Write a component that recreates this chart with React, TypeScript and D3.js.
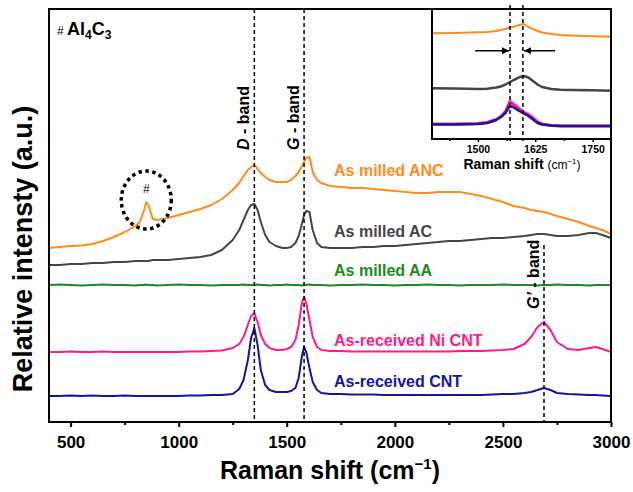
import React, { useEffect, useRef } from 'react';
import * as d3 from 'd3';

// Raman shift (cm-1) sample points for the main panel
const shift = [
  400, 450, 500, 550, 600, 650, 700, 750, 800,
  820, 840, 850, 860, 880, 900,
  950, 1000, 1050, 1100, 1150, 1200, 1250,
  1280, 1300, 1320, 1335, 1350, 1365, 1380, 1400, 1420, 1450, 1480, 1500, 1520, 1540, 1555, 1570, 1580, 1590, 1605, 1620, 1640, 1660,
  1700, 1750, 1800, 1850, 1900, 1950, 2000, 2050, 2100, 2150, 2200, 2250, 2300, 2350, 2400, 2450, 2500, 2550, 2600,
  2630, 2660, 2690, 2720, 2750, 2800, 2850, 2900, 2930, 2960, 3000,
];

// offset intensities (a.u.)
const ancMilled = [
  174, 175, 176, 176.5, 178, 181, 185, 190, 196,
  200, 212, 220, 217, 203, 202,
  204, 207, 210, 213, 217, 223, 232,
  239, 246, 252, 255, 257, 253, 249, 245, 242, 240, 240, 240, 242, 246, 250, 256, 260, 264, 265, 250, 242, 239,
  236, 235, 234, 234, 233, 232, 231, 230, 229, 229, 230, 230, 230, 228, 226, 223, 220, 216, 214,
  212, 211, 210, 208, 206, 203, 200, 196, 194, 192, 188,
];
const acMilled = [
  157, 157, 158, 158, 159, 159, 160, 160, 161,
  161, 161, 161, 161, 162, 162,
  162, 163, 164, 165, 167, 172, 182,
  192, 202, 212, 217, 218, 212, 200, 187, 180, 176, 174, 174, 175, 179, 186, 198, 207, 211, 210, 192, 179, 175,
  174, 174, 174, 175, 175, 176, 176, 177, 178, 179, 180, 181, 181, 182, 183, 184, 184, 185, 186,
  187, 188, 188, 187, 186, 186, 187, 189, 189, 187, 184,
];
const aaMilled = [
  137, 137.5, 137, 136.5, 137, 137.5, 137, 137, 136.5,
  137, 137, 137.5, 137, 137, 136.5,
  137, 137.5, 137, 137, 136.5, 137, 137,
  137, 137.5, 137, 137, 137, 137.5, 137, 137, 136.5, 137, 137, 137.5, 137, 137, 137, 136.5, 137, 137, 137.5, 137, 137, 137,
  136.5, 137, 137, 137.5, 137, 137, 136.5, 137, 137, 137.5, 137, 137, 136.5, 137, 137, 137, 137.5, 137, 137,
  137, 136.5, 137, 137, 137.5, 137, 137, 136.5, 137, 137, 137,
];
const niCnt = [
  70, 70, 70.5, 70, 70, 70.5, 70, 70, 70,
  70, 70, 70, 70, 70, 70,
  70, 70, 70.5, 70.5, 71, 71.5, 74,
  78, 85, 97, 106, 109, 100, 87, 78, 74, 72, 72, 73, 75, 82, 97, 119, 125, 119, 102, 85, 75, 72,
  71, 71, 70.5, 70.5, 70.5, 70.5, 70.5, 70.5, 70.5, 70.5, 70.5, 70.5, 71, 71, 71, 71.5, 72, 73, 78,
  85, 95, 100, 92, 80, 73, 72, 74, 75, 73, 70,
];
const cnt = [
  26, 26, 26.5, 26, 26.5, 26, 26, 26.5, 26,
  26, 26, 26, 26, 26, 26,
  26, 26, 26.5, 26.5, 27, 27, 28,
  33, 42, 62, 84, 94, 77, 52, 37, 32, 30, 30, 30, 31, 34, 44, 66, 75, 70, 54, 40, 32, 29,
  28, 28, 27.5, 27.5, 27.5, 27, 27, 27, 27, 27, 27, 27, 27, 27, 27, 27.5, 28, 28, 29,
  30, 32, 34, 32, 29, 28, 27.5, 27, 27, 26.5, 26,
];

// inset: G band region
const insetShift = [1400, 1450, 1500, 1520, 1540, 1550, 1560, 1570, 1580, 1590, 1600, 1610, 1620, 1630, 1640, 1660, 1680, 1700, 1750, 1790];
const insetAnc = [105.7, 106, 106.7, 107, 108, 109, 110, 111.5, 112.5, 114, 115, 112, 110, 108, 106.5, 105, 104, 103.5, 102.7, 102.3];
const insetAc = [50.7, 50.5, 50, 50.3, 51.5, 52.5, 54.5, 57, 59.5, 61.7, 63, 61.5, 58, 54.5, 52, 50, 49.3, 49, 48.7, 48.3];
const insetNiCnt = [15, 15, 15.5, 16.5, 19.5, 22.5, 27.5, 37.5, 34, 30, 27, 24.5, 21, 17, 15, 13.5, 13, 13, 13, 13];
const insetCnt = [14.5, 14.5, 15, 16, 19, 22, 26, 33.5, 31, 28, 25.5, 23, 19.5, 16, 14.5, 13.5, 13, 13, 13, 13];

const mainTicks = [500, 1000, 1500, 2000, 2500, 3000];
const mainMinorTicks = [750, 1250, 1750, 2250, 2750];
const insetTicks = [1500, 1625, 1750];
const insetMinorTicks = [1437.5, 1562.5, 1687.5];

const dBand = 1350;
const gBand = 1580;
const g2Band = 2690;
const insetBands = [1570, 1598];

const FONT = 'Arial, "Liberation Sans", Helvetica, sans-serif';

const App = () => {
  const ref = useRef<SVGSVGElement>(null);

  useEffect(() => {
    const svg = d3.select(ref.current);
    svg.selectAll('*').remove();
    svg.style('font-family', FONT);

    // main panel geometry
    const x = d3.scaleLinear().domain([400, 3000]).range([49, 611]);
    const y = d3.scaleLinear().domain([0, 413]).range([422, 9]);

    const line = d3.line<number>()
      .x((_, i) => x(shift[i]))
      .y((d) => y(d));

    const series = [
      { name: 'As milled ANC', values: ancMilled, color: '#FF8C1A', labelY: 176 },
      { name: 'As milled AC', values: acMilled, color: '#454545', labelY: 237 },
      { name: 'As milled AA', values: aaMilled, color: '#1C8A1C', labelY: 275.5 },
      { name: 'As-received Ni CNT', values: niCnt, color: '#FF1A8C', labelY: 345.5 },
      { name: 'As-received CNT', values: cnt, color: '#16169A', labelY: 386.5 },
    ];

    series.forEach((s) => {
      svg.append('path')
        .attr('d', line(s.values))
        .attr('fill', 'none')
        .attr('stroke', s.color)
        .attr('stroke-width', 2)
        .attr('stroke-linejoin', 'round');
      svg.append('text')
        .attr('x', 334)
        .attr('y', s.labelY)
        .attr('fill', s.color)
        .attr('font-size', 16)
        .attr('font-weight', 'bold')
        .text(s.name);
    });

    // dashed band markers
    const dashed = (xv: number, y0: number, y1: number) => {
      svg.append('line')
        .attr('x1', x(xv)).attr('x2', x(xv))
        .attr('y1', y0).attr('y2', y1)
        .attr('stroke', '#000')
        .attr('stroke-width', 1.5)
        .attr('stroke-dasharray', '4,3');
    };
    dashed(dBand, 9, 422);
    dashed(gBand, 9, 422);
    dashed(g2Band, 245, 422);

    const bandLabel = (xv: number, yStart: number, letter: string) => {
      const t = svg.append('text')
        .attr('transform', `translate(${x(xv) - 5},${yStart}) rotate(-90)`)
        .attr('font-size', 16)
        .attr('font-weight', 'bold');
      t.append('tspan').attr('font-style', 'italic').text(letter);
      t.append('tspan').text(' - band');
    };
    bandLabel(dBand, 150, 'D');
    bandLabel(gBand, 150, 'G');
    bandLabel(g2Band, 309, 'G\u2019');

    // Al4C3 marker
    svg.append('ellipse')
      .attr('cx', x(850))
      .attr('cy', y(222))
      .attr('rx', 25)
      .attr('ry', 29)
      .attr('fill', 'none')
      .attr('stroke', '#000')
      .attr('stroke-width', 3.5)
      .attr('stroke-dasharray', '3.5,3.5');
    svg.append('text')
      .attr('x', x(850))
      .attr('y', 193)
      .attr('text-anchor', 'middle')
      .attr('font-size', 12)
      .text('#');

    const al = svg.append('text').attr('x', 57).attr('y', 35).attr('font-weight', 'bold');
    al.append('tspan').attr('font-size', 12).attr('font-weight', 'normal').text('# ');
    al.append('tspan').attr('font-size', 18).text('Al');
    al.append('tspan').attr('font-size', 12).attr('dy', 4).text('4');
    al.append('tspan').attr('font-size', 18).attr('dy', -4).text('C');
    al.append('tspan').attr('font-size', 12).attr('dy', 4).text('3');

    // frame + axes
    svg.append('rect')
      .attr('x', 49).attr('y', 9)
      .attr('width', 562).attr('height', 413)
      .attr('fill', 'none')
      .attr('stroke', '#000')
      .attr('stroke-width', 2);

    const xAxis = svg.append('g')
      .attr('transform', 'translate(0,422)')
      .call(d3.axisBottom(x).tickValues(mainTicks).tickSize(5).tickPadding(9).tickFormat(d3.format('d')));
    xAxis.select('.domain').remove();
    xAxis.selectAll('line').attr('stroke-width', 2);
    xAxis.selectAll('text')
      .attr('font-size', 17)
      .attr('font-weight', 'bold')
      .attr('font-family', FONT);

    const xMinor = svg.append('g')
      .attr('transform', 'translate(0,422)')
      .call(d3.axisBottom(x).tickValues(mainMinorTicks).tickSize(3).tickFormat(() => ''));
    xMinor.select('.domain').remove();
    xMinor.selectAll('line').attr('stroke-width', 2);

    const xt = svg.append('text')
      .attr('x', 330)
      .attr('y', 479)
      .attr('text-anchor', 'middle')
      .attr('font-size', 25)
      .attr('font-weight', 'bold');
    xt.append('tspan').text('Raman shift (cm');
    xt.append('tspan').attr('font-size', 15).attr('dy', -10).text('\u22121');
    xt.append('tspan').attr('dy', 10).text(')');

    svg.append('text')
      .attr('transform', 'translate(32,249) rotate(-90)')
      .attr('text-anchor', 'middle')
      .attr('font-size', 27)
      .attr('font-weight', 'bold')
      .text('Relative intensty (a.u.)');

    // ---- inset ----
    const xi = d3.scaleLinear().domain([1400, 1790]).range([432, 611]);
    const yi = d3.scaleLinear().domain([0, 130]).range([139, 9]);

    svg.append('rect')
      .attr('x', 432).attr('y', 9)
      .attr('width', 179).attr('height', 130)
      .attr('fill', '#fff');

    const insetLine = d3.line<number>()
      .x((_, i) => xi(insetShift[i]))
      .y((d) => yi(d));

    [
      { values: insetAnc, color: '#FF8C1A', w: 2 },
      { values: insetAc, color: '#454545', w: 2.5 },
      { values: insetNiCnt, color: '#FF1A8C', w: 3 },
      { values: insetCnt, color: '#16169A', w: 2.5 },
    ].forEach((s) => {
      svg.append('path')
        .attr('d', insetLine(s.values))
        .attr('fill', 'none')
        .attr('stroke', s.color)
        .attr('stroke-width', s.w)
        .attr('stroke-linejoin', 'round');
    });

    insetBands.forEach((b) => {
      svg.append('line')
        .attr('x1', xi(b)).attr('x2', xi(b))
        .attr('y1', 5).attr('y2', 141)
        .attr('stroke', '#000')
        .attr('stroke-width', 1.5)
        .attr('stroke-dasharray', '4,3');
    });

    svg.append('defs').append('marker')
      .attr('id', 'arrowhead')
      .attr('viewBox', '0 0 10 10')
      .attr('refX', 10).attr('refY', 5)
      .attr('markerWidth', 9).attr('markerHeight', 7)
      .attr('markerUnits', 'userSpaceOnUse')
      .attr('orient', 'auto')
      .append('path')
      .attr('d', 'M0,0 L10,5 L0,10 z')
      .attr('fill', '#000');

    const arrowY = yi(88.3);
    svg.append('line')
      .attr('x1', xi(1494)).attr('x2', xi(insetBands[0]) - 1)
      .attr('y1', arrowY).attr('y2', arrowY)
      .attr('stroke', '#000').attr('stroke-width', 1.5)
      .attr('marker-end', 'url(#arrowhead)');
    svg.append('line')
      .attr('x1', xi(1668)).attr('x2', xi(insetBands[1]) + 1)
      .attr('y1', arrowY).attr('y2', arrowY)
      .attr('stroke', '#000').attr('stroke-width', 1.5)
      .attr('marker-end', 'url(#arrowhead)');

    svg.append('rect')
      .attr('x', 432).attr('y', 9)
      .attr('width', 179).attr('height', 130)
      .attr('fill', 'none')
      .attr('stroke', '#000')
      .attr('stroke-width', 2);

    const xiAxis = svg.append('g')
      .attr('transform', 'translate(0,139)')
      .call(d3.axisBottom(xi).tickValues(insetTicks).tickSize(3).tickPadding(3.5).tickFormat(d3.format('d')));
    xiAxis.select('.domain').remove();
    xiAxis.selectAll('line').attr('stroke-width', 1.5);
    xiAxis.selectAll('text')
      .attr('font-size', 10.5)
      .attr('font-weight', 'bold')
      .attr('font-family', FONT);
    const xiMinor = svg.append('g')
      .attr('transform', 'translate(0,139)')
      .call(d3.axisBottom(xi).tickValues(insetMinorTicks).tickSize(2).tickFormat(() => ''));
    xiMinor.select('.domain').remove();
    xiMinor.selectAll('line').attr('stroke-width', 1.5);

    const it = svg.append('text')
      .attr('x', 522)
      .attr('y', 169)
      .attr('text-anchor', 'middle')
      .attr('font-size', 14)
      .attr('font-weight', 'bold');
    it.append('tspan').text('Raman shift ');
    it.append('tspan').attr('font-weight', 'normal').attr('font-size', 12).text('(cm');
    it.append('tspan').attr('font-weight', 'normal').attr('font-size', 8).attr('dy', -5).text('\u22121');
    it.append('tspan').attr('font-weight', 'normal').attr('font-size', 12).attr('dy', 5).text(')');
  }, []);

  return (
    <svg
      ref={ref}
      width={633}
      height={492}
      style={{ position: 'absolute', left: 0, top: 0, background: '#fff' }}
    />
  );
};

export default App;
